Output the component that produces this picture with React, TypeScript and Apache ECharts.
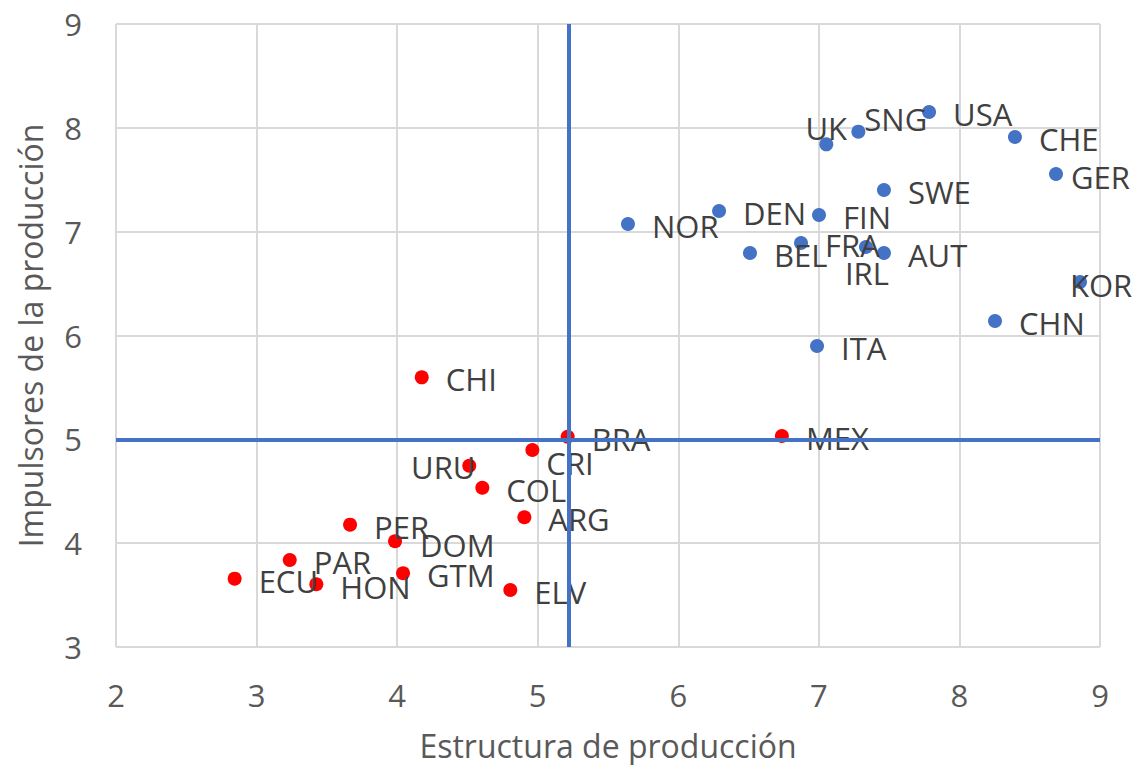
import React, { useEffect, useRef } from "react";
import * as echarts from "echarts";

// Axis settings
const xTicks = { min: 2, max: 9, interval: 1 };
const yTicks = { min: 3, max: 9, interval: 1 };

// Reference (quadrant) lines
const refX = [5.22];
const refY = [5];

// Developed / reference economies (blue)
const blueNames = ["USA", "SNG", "UK", "CHE", "GER", "SWE", "DEN", "FIN", "NOR", "BEL", "FRA", "IRL", "AUT", "KOR", "CHN", "ITA"];
const blueX = [7.784, 7.281, 7.053, 8.395, 8.687, 7.463, 6.29, 7.001, 5.642, 6.51, 6.873, 7.335, 7.463, 8.858, 8.253, 6.987];
const blueY = [8.152, 7.963, 7.841, 7.912, 7.555, 7.401, 7.199, 7.16, 7.074, 6.794, 6.891, 6.852, 6.794, 6.515, 6.14, 5.899];

// Latin American economies (red)
const redNames = ["CHI", "BRA", "MEX", "CRI", "URU", "COL", "ARG", "PER", "DOM", "PAR", "ECU", "HON", "GTM", "ELV"];
const redX = [4.175, 5.213, 6.737, 4.962, 4.513, 4.606, 4.905, 3.665, 3.985, 3.236, 2.844, 3.425, 4.042, 4.805];
const redY = [5.597, 5.025, 5.032, 4.897, 4.746, 4.534, 4.249, 4.178, 4.018, 3.838, 3.658, 3.604, 3.71, 3.549];

const xTitle = "Estructura de producción";
const yTitle = "Impulsores de la producción";

// Label placement tweaks (not data)
const labelTweaks: Record<string, any> = {
  GER: { offset: [-9, 3] },
  KOR: { position: "inside", offset: [21, 3] },
  CRI: { offset: [-10, 13] },
  SNG: { offset: [-18, -13] },
  DOM: { offset: [1, 4] },
  HON: { offset: [0, 3] },
  UK: { position: "inside", offset: [0, -16] },
  IRL: { position: "inside", offset: [1, 26] },
  URU: { position: "inside", offset: [-26, 1] },
};

const FONT = "'Open Sans', 'Noto Sans', sans-serif";
const BLUE = "#4472C4";
const RED = "#FF0000";

function build(names: string[], xs: number[], ys: number[]) {
  return names.map((n, i) => {
    const item: any = { name: n, value: [xs[i], ys[i]] };
    if (labelTweaks[n]) item.label = labelTweaks[n];
    return item;
  });
}

export default function App() {
  const ref = useRef<HTMLDivElement>(null);
  useEffect(() => {
    if (!ref.current) return;
    const chart = echarts.init(ref.current, undefined, { renderer: "svg" });
    const label = {
      show: true,
      position: "right",
      distance: 17,
      offset: [0, 2],
      formatter: "{b}",
      color: "#404040",
      fontSize: 31,
      fontFamily: FONT,
    };
    chart.setOption({
      animation: false,
      backgroundColor: "#ffffff",
      grid: {
        left: 116,
        right: 32,
        top: 24,
        bottom: 118,
        containLabel: false,
        outerBoundsMode: "none",
      },
      xAxis: {
        type: "value",
        min: xTicks.min,
        max: xTicks.max,
        interval: xTicks.interval,
        name: xTitle,
        nameLocation: "middle",
        nameGap: 82,
        nameTextStyle: { color: "#595959", fontSize: 32, fontFamily: FONT },
        axisLine: { show: false },
        axisTick: { show: false },
        axisLabel: { color: "#595959", fontSize: 31, fontFamily: FONT, margin: 32 },
        splitLine: { show: true, lineStyle: { color: "#d9d9d9", width: 2 } },
      },
      yAxis: {
        type: "value",
        min: yTicks.min,
        max: yTicks.max,
        interval: yTicks.interval,
        name: yTitle,
        nameLocation: "middle",
        nameGap: 70,
        nameTextStyle: { color: "#595959", fontSize: 32, fontFamily: FONT },
        axisLine: { show: false },
        axisTick: { show: false },
        axisLabel: { color: "#595959", fontSize: 31, fontFamily: FONT, margin: 34 },
        splitLine: { show: true, lineStyle: { color: "#d9d9d9", width: 2 } },
      },
      series: [
        {
          type: "scatter",
          data: [],
          z: 1,
          markLine: {
            silent: true,
            symbol: ["none", "none"],
            label: { show: false },
            lineStyle: { color: BLUE, width: 4, type: "solid" },
            data: [...refX.map((v) => ({ xAxis: v })), ...refY.map((v) => ({ yAxis: v }))],
          },
        },
        {
          type: "scatter",
          name: "blue",
          z: 3,
          symbolSize: 14,
          itemStyle: { color: BLUE, opacity: 1 },
          label,
          data: build(blueNames, blueX, blueY),
        },
        {
          type: "scatter",
          name: "red",
          z: 3,
          symbolSize: 14,
          itemStyle: { color: RED, opacity: 1 },
          label,
          data: build(redNames, redX, redY),
        },
      ],
    });
    return () => chart.dispose();
  }, []);
  return (
    <div
      ref={ref}
      style={{ position: "absolute", left: 0, top: 0, width: 1132, height: 765, background: "#fff" }}
    />
  );
}
